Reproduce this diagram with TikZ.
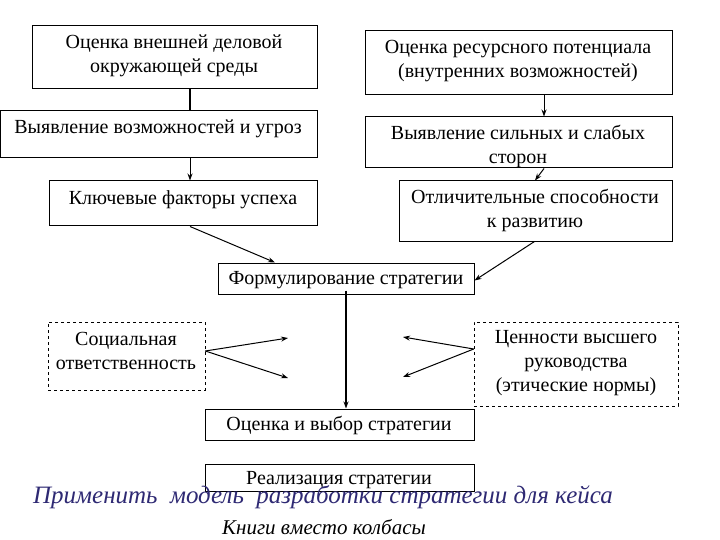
\documentclass[tikz,border=0pt]{standalone}
\usepackage{fontspec}
\setmainfont{Liberation Serif}
\usetikzlibrary{arrows.meta}
\definecolor{TitleClr}{rgb}{0.18,0.16,0.45}

\begin{document}
\begin{tikzpicture}[x=1pt,y=-1pt,
  box/.style={draw,line width=1pt,inner sep=0pt},
  dbox/.style={box,dashed,line width=0.6pt},
  txt/.style={align=center,font=\fontsize{20}{24}\selectfont,inner sep=0pt},
  arr/.style={line width=1pt,-{Stealth[length=7pt,width=5pt]}}]
\useasboundingbox (0,0) rectangle (720,540);

% boxes
\node[box,minimum width=285pt,minimum height=63pt] (ExtEnv) at (174.5,57.5) {};
\node[box,minimum width=317pt,minimum height=47pt] (OppThr) at (158.5,134.5) {};
\node[box,minimum width=268pt,minimum height=45pt] (KeyFac) at (183,203.5) {};
\node[box,minimum width=307pt,minimum height=64pt] (ResPot) at (518.5,63) {};
\node[box,minimum width=307pt,minimum height=51pt] (StrWeak) at (518.5,142.5) {};
\node[box,minimum width=273pt,minimum height=60pt] (DistAb) at (535.5,211) {};
\node[box,minimum width=256pt,minimum height=31pt] (Form) at (346,278.5) {};
\node[dbox,minimum width=157pt,minimum height=68pt] (Social) at (126.5,356) {};
\node[dbox,minimum width=204pt,minimum height=84pt] (Values) at (576,364) {};
\node[box,minimum width=269pt,minimum height=31pt] (Choice) at (339.5,424.5) {};
\node[box,minimum width=269pt,minimum height=27pt] (Impl) at (339.5,477.5) {};

% texts
\node[txt] (tExtEnv) at (174,56) {Оценка внешней деловой\\окружающей среды};
\node[txt] (tOppThr) at (158,129) {Выявление возможностей и угроз};
\node[txt] (tKeyFac) at (183,200) {Ключевые факторы успеха};
\node[txt] (tResPot) at (518,61) {Оценка ресурсного потенциала\\(внутренних возможностей)};
\node[txt] (tStrWeak) at (518,146) {Выявление сильных и слабых\\сторон};
\node[txt] (tDistAb) at (535,210) {Отличительные способности\\к развитию};
\node[txt] (tForm) at (346,280) {Формулирование стратегии};
\node[txt] (tSocial) at (126,351) {Социальная\\ответственность};
\node[txt] (tValues) at (576,363) {Ценности высшего\\руководства\\(этические нормы)};
\node[txt] (tChoice) at (339,425) {Оценка и выбор стратегии};
\node[txt] (tImpl) at (339,480) {Реализация стратегии};

\node[font=\fontsize{25}{28}\selectfont\itshape,text=TitleClr,inner sep=0pt] (Title) at (323,497) {Применить\ \ модель\ \ разработки стратегии для кейса};
\node[font=\fontsize{21}{24}\selectfont\itshape,inner sep=0pt] (Case) at (324,527) {Книги вместо колбасы};

% connectors
\coordinate (vL) at (190,0);
\coordinate (vR) at (544,0);
\coordinate (vM) at (346,0);
\coordinate (SocUp) at (288,338);
\coordinate (SocDn) at (288,378);
\coordinate (ValUp) at (403,337);
\coordinate (ValDn) at (403,377);

\draw[line width=1.4pt] (ExtEnv.south -| vL) -- (OppThr.north -| vL);
\draw[arr] (OppThr.south -| vL) -- (KeyFac.north -| vL);
\draw[arr] (ResPot.south -| vR) -- (StrWeak.north -| vR);
\draw[arr] (StrWeak.south -| vR) -- ([xshift=-9pt]DistAb.north -| vR);
\draw[arr] (KeyFac.south -| vL) -- ([xshift=-71pt]Form.north);
\draw[arr] ([xshift=-1pt]DistAb.south) -- ([yshift=-2pt]Form.east);
\draw[arr,line width=1.4pt] ([yshift=4pt]Form.south -| vM) -- (Choice.north -| vM);
\draw[arr] ([yshift=5pt]Social.east) -- (SocUp);
\draw[arr] ([yshift=5pt]Social.east) -- (SocDn);
\draw[arr] ([yshift=15pt]Values.west) -- (ValUp);
\draw[arr] ([yshift=15pt]Values.west) -- (ValDn);
\end{tikzpicture}
\end{document}
